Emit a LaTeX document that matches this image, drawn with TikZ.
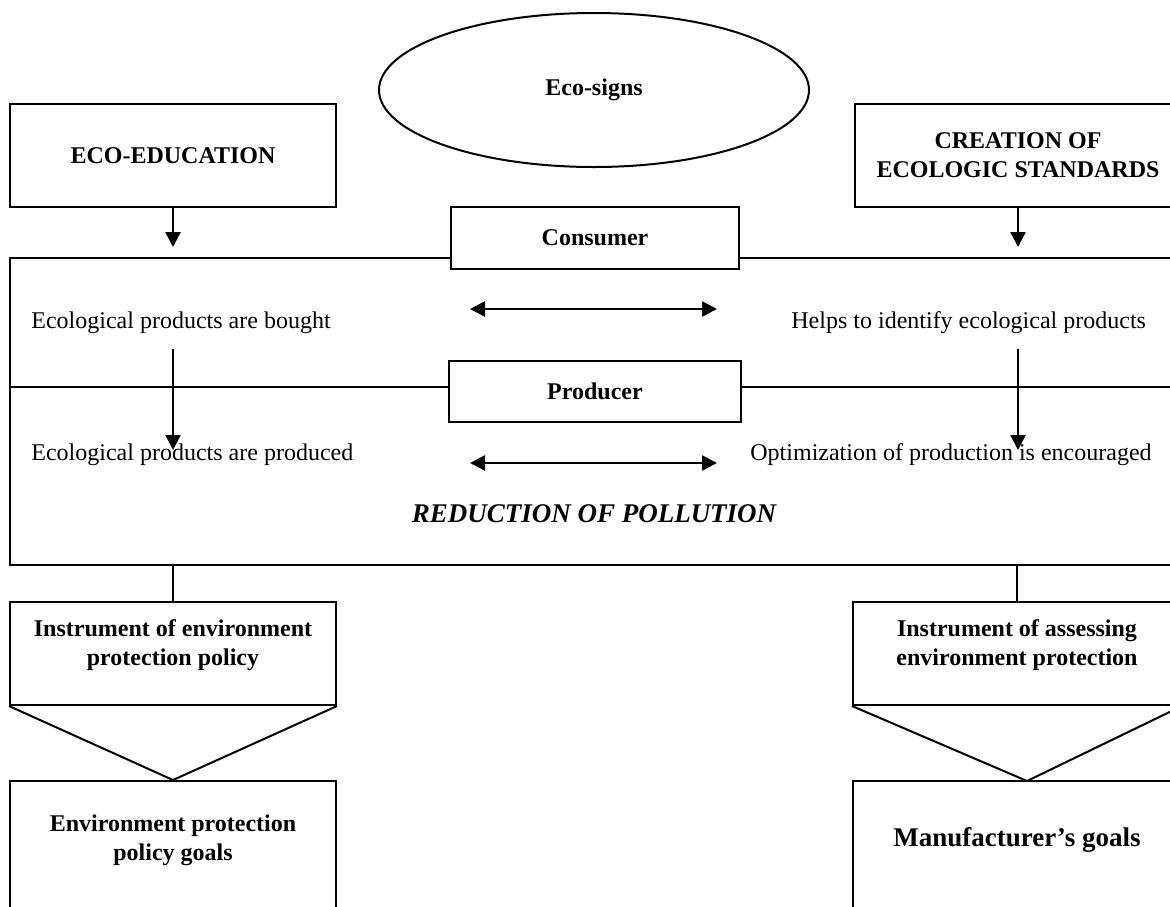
\documentclass[tikz,border=0pt,12pt]{standalone}
\usepackage{fontspec}
\setmainfont{Liberation Serif}
\usepackage{tikz}
\usetikzlibrary{arrows.meta,positioning,shapes,calc}

\begin{document}
\begin{tikzpicture}[x=0.5pt, y=-0.5pt,
  box/.style={draw, line width=1pt, fill=white, inner sep=0pt, align=center, font=\bfseries},
  arr/.style={line width=1.2pt, -{Triangle[length=7.5pt,width=7.5pt]}},
  dblarr/.style={line width=1.2pt, {Triangle[length=7.5pt,width=7.5pt]}-{Triangle[length=7.5pt,width=7.5pt]}},
  plain/.style={inner sep=0pt}]

\useasboundingbox (0,0) rectangle (1170,906);
\clip (0,0) rectangle (1170,906);

% Sign and the two sources
\node[ellipse, draw, line width=1pt, minimum width=215pt, minimum height=77pt, inner sep=0pt, font=\bfseries] (signs) at (594,90) {Eco-signs};
\node[box, minimum width=163pt, minimum height=51.5pt] (edu) at (173,155.5) {ECO-EDUCATION};
\node[box, minimum width=163pt, minimum height=51.5pt] (std) at (1018,155.5) {CREATION OF\\ECOLOGIC STANDARDS};

% Market frame with consumer and producer
\node[draw, line width=1pt, minimum width=585.5pt, minimum height=153.5pt, inner sep=0pt] (frame) at (595.5,411.5) {};
\coordinate (pl) at (10,387);
\coordinate (pr) at (1181,387);
\draw[line width=1pt] (pl) -- (pr);
\node[box, minimum width=144pt, minimum height=31pt] (cons) at (595,238) {Consumer};
\node[box, minimum width=146pt, minimum height=30.5pt] (prod) at (595,391.5) {Producer};

% Texts in the frame
\node[plain, anchor=base west] (bought) at (31,328) {Ecological products are bought};
\node[plain, anchor=base west] (helps) at (791,328) {Helps to identify ecological products};
\node[plain, anchor=base west] (made) at (31,460) {Ecological products are produced};
\node[plain, anchor=base west] (optim) at (750,460) {Optimization of production is encouraged};
\node[plain, anchor=base, font=\fontsize{13.5}{16}\selectfont\bfseries\itshape] (poll) at (594,522) {REDUCTION OF POLLUTION};

% Arrows
\coordinate (eduin) at (173,247);
\coordinate (stdin) at (1018,247);
\draw[arr] (edu.south) -- (eduin);
\draw[arr] (std.south) -- (stdin);
\coordinate (lt) at (173,349);
\coordinate (lb) at (173,450);
\coordinate (rt) at (1018,349);
\coordinate (rb) at (1018,450);
\draw[arr] (lt) -- (lb);
\draw[arr] (rt) -- (rb);
\coordinate (a1) at (470,309);
\coordinate (b1) at (717,309);
\coordinate (a2) at (470,463);
\coordinate (b2) at (717,463);
\draw[dblarr] (a1) -- (b1);
\draw[dblarr] (a2) -- (b2);

% Instruments and goals
\node[box, minimum width=163pt, minimum height=51.5pt] (tool) at (173,653.5) {Instrument of environment\\protection policy\\[-4pt]\mbox{}};
\node[box, minimum width=164pt, minimum height=51.5pt] (assess) at (1017,653.5) {Instrument of assessing\\environment protection\\[-4pt]\mbox{}};
\draw[line width=1pt] (frame.south -| tool.north) -- (tool.north);
\draw[line width=1pt] (frame.south -| assess.north) -- (assess.north);

\node[box, minimum width=163pt, minimum height=70pt] (pgoal) at (173,851) {Environment protection\\policy goals\\[-1.5pt]\mbox{}};
\node[box, minimum width=164pt, minimum height=70pt, font=\fontsize{13.5}{16}\selectfont\bfseries] (mgoal) at (1017,851) {Manufacturer’s goals\\[-2pt]\mbox{}};
\coordinate (mtip) at (1027,781);
\draw[line width=1pt] (tool.south west) -- (pgoal.north) -- (tool.south east);
\draw[line width=1pt] (assess.south west) -- (mtip) -- (assess.south east);

\end{tikzpicture}
\end{document}
